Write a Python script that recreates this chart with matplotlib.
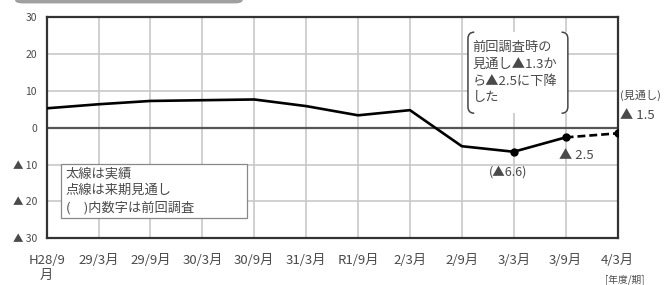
import matplotlib.pyplot as plt
from matplotlib.patches import FancyBboxPatch, Rectangle, PathPatch
from matplotlib.path import Path

plt.rcParams['font.family'] = ['Noto Sans CJK JP', 'DejaVu Sans']

periods = ['H28/9\n月', '29/3月', '29/9月', '30/3月', '30/9月', '31/3月',
           'R1/9月', '2/3月', '2/9月', '3/3月', '3/9月', '4/3月']
actual = [5.3, 6.4, 7.3, 7.5, 7.7, 5.9, 3.4, 4.8, -5.0, -6.5, -2.6]
forecast = [-2.6, -1.5]
yticks = [30, 20, 10, 0, -10, -20, -30]
ylabels = ['30', '20', '10', '0', '▲ 10', '▲ 20', '▲ 30']

txt = '#4a4a4a'
fig = plt.figure(figsize=(6.64, 2.85), dpi=100)
ax = fig.add_axes([0.0703, 0.164, 0.8597, 0.775])

x = list(range(len(periods)))
ax.plot(x[:len(actual)], actual, color='black', lw=1.9, zorder=3)
ax.plot(x[len(actual) - 1:], forecast, color='black', lw=1.9, ls=(0, (3, 1.5)), zorder=3)
ax.plot(x[9:11], actual[9:11], 'o', color='black', ms=5, zorder=4)
ax.plot(x[-1], forecast[-1], 'o', color='black', ms=5, zorder=4)

ax.set_xlim(0, len(periods) - 1)
ax.set_ylim(-30, 30)
ax.set_xticks(x)
ax.set_xticklabels(periods, color=txt, fontsize=9.5, linespacing=1.25)
ax.set_yticks(yticks)
ax.set_yticklabels(ylabels, color=txt, fontsize=7.5)
ax.tick_params(axis='y', length=0, pad=7)
ax.tick_params(axis='x', length=0, pad=11)
ax.grid(True, color='#c8c8c8', lw=1.2)
ax.axhline(0, color='#555555', lw=1.6, zorder=2)
for s in ax.spines.values():
    s.set_color('#333333')
    s.set_linewidth(1.6)

# legend-like note box
ax.add_patch(Rectangle((0.025, 0.092), 0.326, 0.244, transform=ax.transAxes,
                       fc='white', ec='#888888', lw=0.9, zorder=5))
ax.text(0.033, 0.214, '太線は実績\n点線は来期見通し\n(　)内数字は前回調査', transform=ax.transAxes,
        fontsize=9.5, color=txt, va='center', ha='left', linespacing=1.32, zorder=6)

# bracketed comment
bx0, bx1, by0, by1 = 0.738, 0.913, 0.566, 0.933
rx, ry = 0.011, 0.03
ax.add_patch(Rectangle((bx0, by0), bx1 - bx0, by1 - by0, transform=ax.transAxes,
                       fc='white', ec='none', zorder=5))
left = Path([(bx0 + rx, by1), (bx0, by1), (bx0, by1 - ry), (bx0, by0 + ry), (bx0, by0), (bx0 + rx, by0)],
            [Path.MOVETO, Path.CURVE3, Path.CURVE3, Path.LINETO, Path.CURVE3, Path.CURVE3])
right = Path([(bx1 - rx, by1), (bx1, by1), (bx1, by1 - ry), (bx1, by0 + ry), (bx1, by0), (bx1 - rx, by0)],
             [Path.MOVETO, Path.CURVE3, Path.CURVE3, Path.LINETO, Path.CURVE3, Path.CURVE3])
for p in (left, right):
    ax.add_patch(PathPatch(p, transform=ax.transAxes, fc='none', ec='#444444', lw=1.1, zorder=6))
ax.text(bx0 + 0.008, (by0 + by1) / 2, '前回調査時の\n見通し▲1.3か\nら▲2.5に下降\nした', transform=ax.transAxes,
        fontsize=9.5, color=txt, va='center', ha='left', linespacing=1.38, zorder=7)

ax.text(8.9, -12.0, '(▲6.6)', fontsize=9, color=txt, ha='center', va='center')
ax.text(9.87, -7.4, '▲ 2.5', fontsize=9.5, color=txt, ha='left', va='center')
ax.text(11.05, 8.9, '(見通し)', fontsize=8, color=txt, ha='left', va='center', clip_on=False)
ax.text(11.05, 3.4, '▲ 1.5', fontsize=9.5, color=txt, ha='left', va='center', clip_on=False)
fig.text(0.971, -0.004, '[年度/期]', fontsize=7, color=txt, ha='right', va='bottom')

fig.patches.append(FancyBboxPatch((0.0226, 0.988), 0.343, 0.1,
                                  boxstyle='round,pad=0,rounding_size=0.012',
                                  transform=fig.transFigure, fc='#a0a0a0', ec='none'))

fig.savefig('out.png', dpi=100)
